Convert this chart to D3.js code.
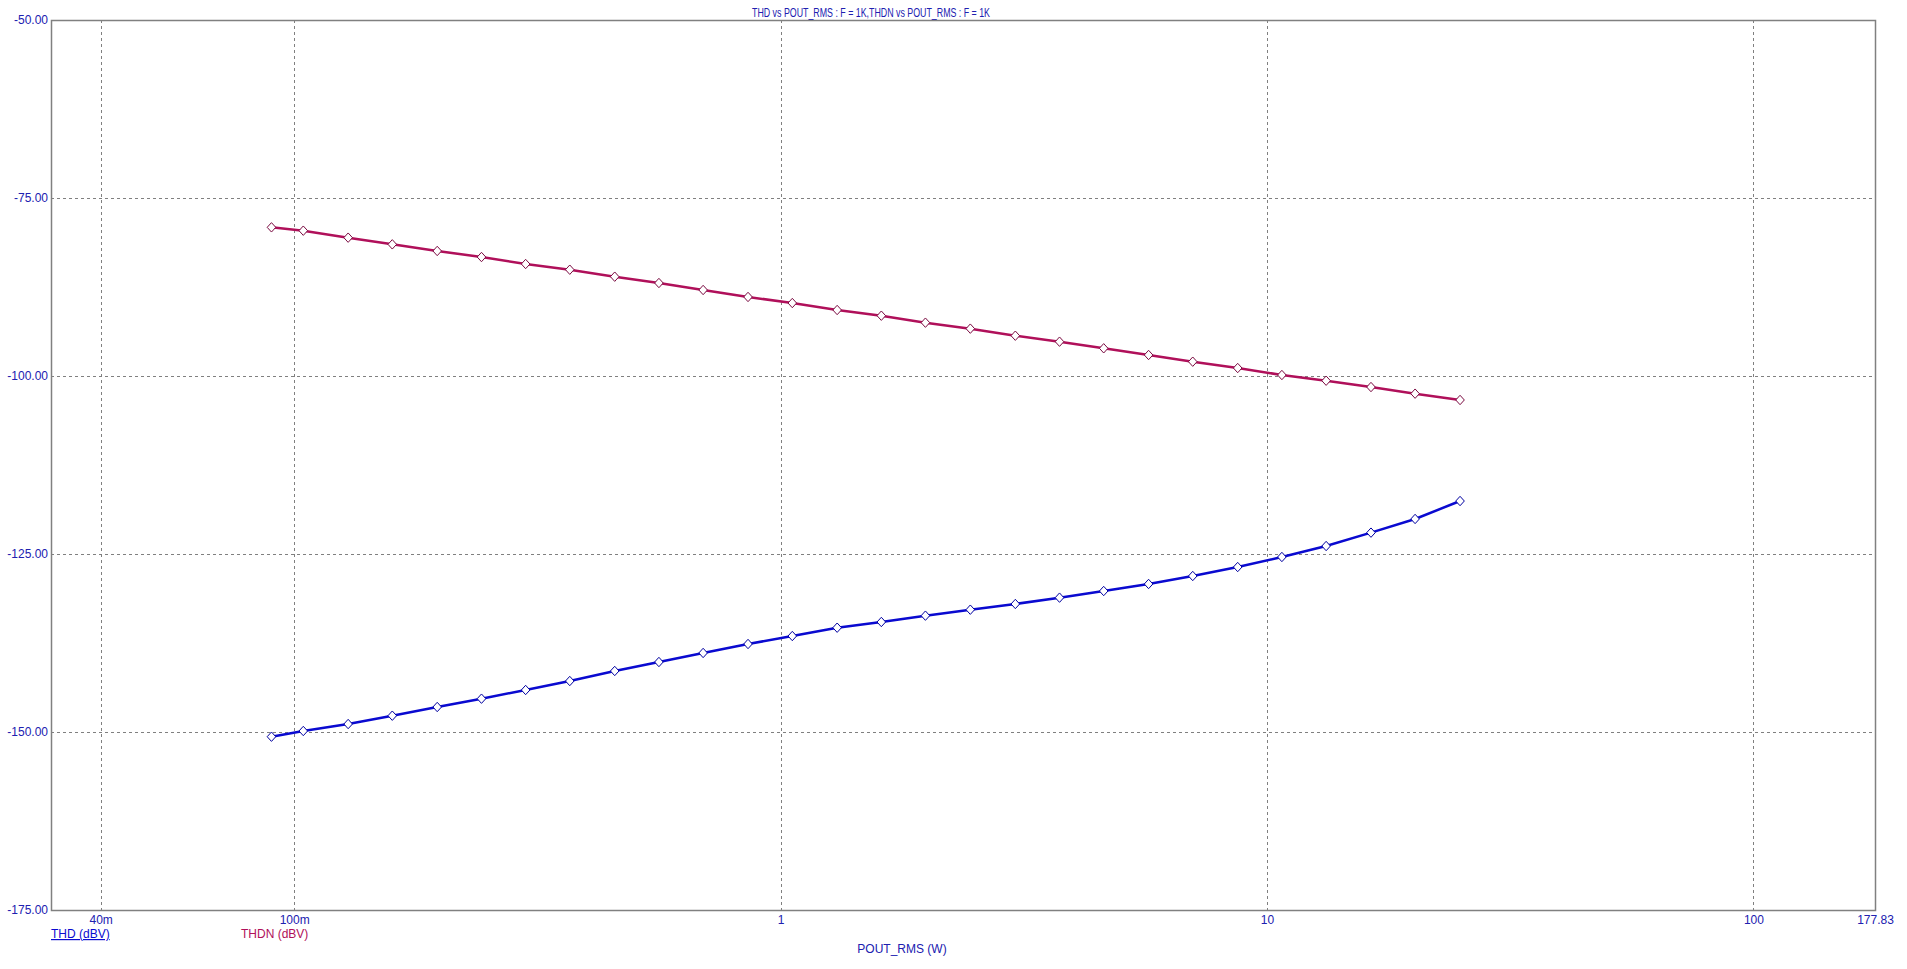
<!DOCTYPE html>
<html>
<head>
<meta charset="utf-8">
<script src="https://cdn.jsdelivr.net/npm/d3@7"></script>
<style>
  html, body { margin: 0; padding: 0; background: #ffffff; }
  svg { display: block; }
  text { font-family: "Liberation Sans", Arial, sans-serif; }
</style>
</head>
<body>
<svg id="chart" width="1907" height="969"></svg>
<script>
// ---- data ----
const title = "THD vs POUT_RMS : F = 1K,THDN vs POUT_RMS : F = 1K";
const xTitle = "POUT_RMS (W)";
const seriesNames = ["THD (dBV)", "THDN (dBV)"];
const pout = [0.0898, 0.1044, 0.1291, 0.1591, 0.1968, 0.2427, 0.2991, 0.3686, 0.4560, 0.5621,
              0.6930, 0.8571, 1.057, 1.307, 1.611, 1.985, 2.455, 3.038, 3.745, 4.616,
              5.709, 7.036, 8.705, 10.73, 13.23, 16.36, 20.16, 24.94];
const thd = [-150.66, -149.86, -148.88, -147.71, -146.49, -145.32, -144.10, -142.84, -141.43, -140.17,
             -138.90, -137.64, -136.52, -135.35, -134.55, -133.66, -132.82, -132.02, -131.13, -130.20,
             -129.21, -128.09, -126.83, -125.42, -123.88, -122.00, -120.08, -117.56];
const thdn = [-79.12, -79.59, -80.57, -81.51, -82.44, -83.29, -84.27, -85.07, -86.05, -86.94,
              -87.92, -88.90, -89.75, -90.73, -91.53, -92.51, -93.35, -94.34, -95.18, -96.11,
              -97.05, -97.99, -98.88, -99.86, -100.66, -101.55, -102.48, -103.37];
const xDomain = [Math.pow(10, -1.5), 177.83];
const yDomain = [-175, -50];
const xTickValues = [0.04, 0.1, 1, 10, 100, 177.83];
const xTickLabels = ["40m", "100m", "1", "10", "100", "177.83"];
const xGridValues = [0.04, 0.1, 1, 10, 100];
const yTickValues = [-50, -75, -100, -125, -150, -175];
const yTickLabels = ["-50.00", "-75.00", "-100.00", "-125.00", "-150.00", "-175.00"];
const yGridValues = [-75, -100, -125, -150];

// ---- layout ----
const L = 51, R = 1875, T = 20, B = 910;
const labelBlue = "#2020b0";
const thdColor = "#0a0ad0";
const thdnColor = "#b0105a";
const gridColor = "#808080";

const svg = d3.select("#chart");
const x = d3.scaleLog().domain(xDomain).range([L, R]);
const y = d3.scaleLinear().domain(yDomain).range([B, T]);

// grid
svg.append("g").selectAll("line").data(xGridValues).join("line")
  .attr("x1", d => Math.round(x(d)) + 0.5).attr("x2", d => Math.round(x(d)) + 0.5)
  .attr("y1", T).attr("y2", B)
  .attr("stroke", gridColor).attr("stroke-width", 1).attr("stroke-dasharray", "3,3");
svg.append("g").selectAll("line").data(yGridValues).join("line")
  .attr("y1", d => Math.round(y(d)) + 0.5).attr("y2", d => Math.round(y(d)) + 0.5)
  .attr("x1", L).attr("x2", R)
  .attr("stroke", gridColor).attr("stroke-width", 1).attr("stroke-dasharray", "3,3");

// frame
svg.append("rect").attr("x", L + 0.5).attr("y", T + 0.5)
  .attr("width", R - L).attr("height", B - T)
  .attr("fill", "none").attr("stroke", gridColor).attr("stroke-width", 1.5);

// axes
const xAxis = d3.axisBottom(x).tickValues(xTickValues)
  .tickFormat((d, i) => xTickLabels[i]).tickSize(0).tickPadding(5);
const gx = svg.append("g").attr("transform", `translate(0,${B})`).call(xAxis);
gx.select(".domain").remove();
gx.selectAll("text").attr("fill", labelBlue).style("font-size", "12px")
  .style("font-family", "'Liberation Sans', Arial, sans-serif");

const yAxis = d3.axisLeft(y).tickValues(yTickValues)
  .tickFormat((d, i) => yTickLabels[i]).tickSize(0).tickPadding(3);
const gy = svg.append("g").attr("transform", `translate(${L},0)`).call(yAxis);
gy.select(".domain").remove();
gy.selectAll("text").attr("fill", labelBlue).style("font-size", "12px")
  .style("font-family", "'Liberation Sans', Arial, sans-serif");

// title
svg.append("text").attr("x", 871).attr("y", 17).attr("text-anchor", "middle")
  .attr("fill", labelBlue).style("font-size", "13px")
  .attr("textLength", 238).attr("lengthAdjust", "spacingAndGlyphs")
  .text(title);

// x title
svg.append("text").attr("x", 902).attr("y", 953).attr("text-anchor", "middle")
  .attr("fill", labelBlue).style("font-size", "12px").text(xTitle);

// legend labels
svg.append("text").attr("x", 51).attr("y", 938).attr("fill", thdColor)
  .attr("text-decoration", "underline").style("font-size", "12px").text(seriesNames[0]);
svg.append("text").attr("x", 241).attr("y", 938).attr("fill", thdnColor)
  .style("font-size", "12px").text(seriesNames[1]);

// series
const series = [
  { vals: thdn, color: thdnColor, mark: "#7a0a40" },
  { vals: thd, color: thdColor, mark: "#0000a0" }
];
const line = d3.line().x(d => x(d[0])).y(d => y(d[1]));
const wideDiamond = {
  draw(ctx, size) {
    const w = 4.3, h = 4.7;
    ctx.moveTo(0, -h); ctx.lineTo(w, 0); ctx.lineTo(0, h); ctx.lineTo(-w, 0); ctx.closePath();
  }
};
const diamond = d3.symbol().type(wideDiamond);
series.forEach(s => {
  const pts = pout.map((p, i) => [p, s.vals[i]]);
  svg.append("path").datum(pts).attr("d", line)
    .attr("fill", "none").attr("stroke", s.color).attr("stroke-width", 2.5);
  svg.append("g").selectAll("path").data(pts).join("path")
    .attr("transform", d => `translate(${x(d[0])},${y(d[1])})`)
    .attr("d", diamond)
    .attr("fill", "#ffffff").attr("stroke", s.mark).attr("stroke-width", 1)
    .attr("stroke-linejoin", "round");
});
</script>
</body>
</html>
